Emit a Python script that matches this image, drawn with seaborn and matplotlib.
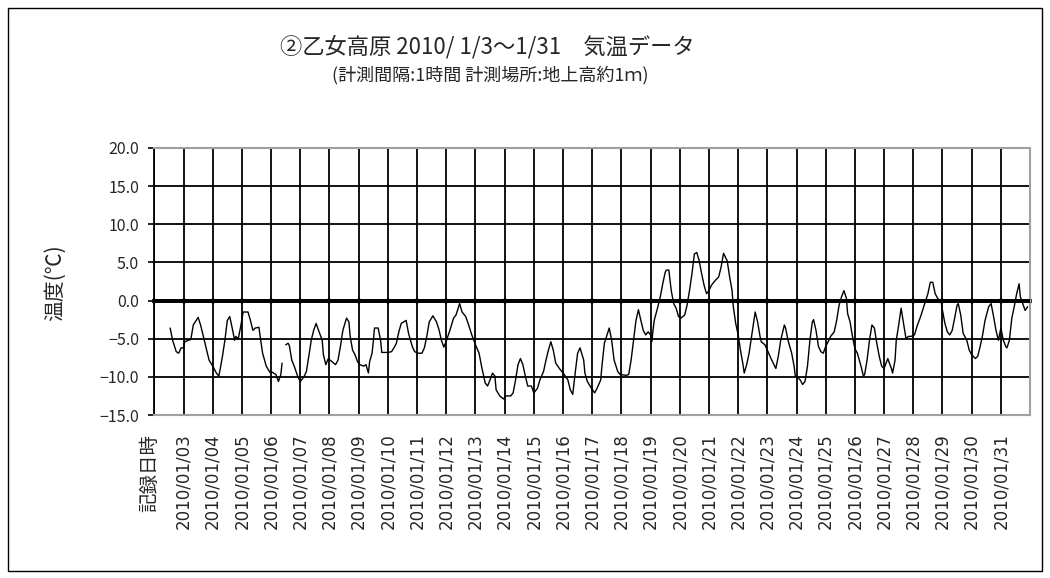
import numpy as np
import pandas as pd
import matplotlib
matplotlib.use("Agg")
import matplotlib.pyplot as plt
import matplotlib.ticker as mticker
from matplotlib.patches import Rectangle
import seaborn as sns

sns.set_style("white")
plt.rcParams['font.family'] = ['Noto Sans CJK JP', 'DejaVu Sans']

# hours counted from the left edge of the plot (first gridline)
hours = [13, 15, 18, 20, 22, 24, 25, 28, 30, 32, 36, 38, 40, 43, 45, 48, 51, 53, 54, 56,
         58, 60, 62, 64, 66, 67, 69, 71, 73, 77, 79, 81, 83, 86, 87, 89, 92, 95, 97, 100,
         102, 104, 105, 106, 108, 110, 111, 113, 115, 118,
         120, 123, 125, 127, 129, 131, 133, 135, 138, 139, 141, 143, 146, 149, 151, 153, 155, 158, 160, 161,
         163, 165, 167, 169, 172, 174, 176, 177, 179, 180, 181, 184, 186, 187, 190, 192, 195, 197, 199, 201,
         203, 207, 209, 212, 214, 217, 220, 222, 224, 226, 229, 232, 234, 236, 238, 240,
         243, 246, 248, 251, 253, 256, 258, 261, 264, 267, 269, 272, 274, 276, 278, 280, 281, 284, 287, 289,
         293, 295, 297, 299, 301, 303, 305, 307, 310, 312, 315, 317, 320, 322, 324, 326, 328, 330, 333, 335,
         337, 340, 342, 344, 346, 348, 350, 353, 354, 356, 359,
         362, 364, 367, 368, 370, 373, 374, 376, 378, 381, 383, 388, 390, 392, 394, 396, 398, 400, 402, 404,
         406, 408, 409, 410, 411, 414, 416, 418, 420, 421, 423, 425, 427, 429, 431, 433, 436, 438, 440, 442,
         444, 446, 448, 450, 452, 454, 456, 458, 461, 464, 466, 468, 471, 473, 475, 476, 478, 480, 482,
         484, 485, 487, 489, 491, 493, 494, 496, 498, 499, 502, 504, 507, 510, 511, 513, 515, 518, 519, 521,
         524, 526, 527, 529, 531, 533, 535, 537, 539, 541, 542, 544, 546, 548, 550, 552, 554, 556, 559, 561,
         563, 565, 567, 569, 570, 572, 574, 576, 578, 581, 583, 584, 586, 588, 590, 592, 594, 596, 598, 600,
         603,
         606, 607, 609, 610, 612, 614, 616, 618, 620, 622, 625, 627, 630, 633, 636, 638, 640, 642, 644, 647,
         648, 650, 652, 654, 656, 658, 660, 661, 663, 665, 668, 670, 672, 675, 677, 679, 681, 683, 686, 688,
         690, 692, 694, 696, 698, 700, 701, 703, 705, 707, 709, 711, 712, 714, 716, 718]

temps = [-3.6, -5.2, -6.7, -6.9, -6.2, -6.2, -5.4, -5.2, -5.1, -3.2, -2.2, -3.2, -4.5, -6.5, -7.8, -8.6, -9.5, -9.9, -9.1, -7.3,
         -5.2, -2.6, -2.1, -3.6, -5.2, -4.7, -5.0, -3.4, -1.5, -1.5, -2.6, -3.9, -3.6, -3.5, -4.7, -6.9, -8.6, -9.4, -9.4, -9.7,
         -10.6, -9.7, -8.2, np.nan, -5.8, -5.6, -5.9, -7.8, -8.6, -10.0,
         -10.6, -10.0, -9.3, -7.3, -5.2, -3.9, -3.0, -3.9, -5.2, -7.1, -8.4, -7.6, -8.0, -8.4, -7.8, -6.0, -3.9, -2.3, -2.8, -4.7,
         -6.5, -7.1, -8.0, -8.4, -8.6, -8.4, -9.5, -8.0, -6.9, -5.4, -3.6, -3.6, -5.2, -6.8, -6.8, -6.8, -6.7, -6.2, -5.6, -4.1,
         -3.0, -2.6, -4.3, -6.0, -6.7, -6.9, -6.9, -6.2, -4.7, -2.8, -2.0, -2.8, -3.8, -5.2, -6.1, -5.3,
         -3.9, -2.3, -1.9, -0.4, -1.5, -2.1, -3.0, -4.5, -5.8, -6.9, -8.6, -10.8, -11.2, -10.4, -9.5, -9.9, -11.7, -12.5, -12.9, -12.5,
         -12.5, -12.1, -10.4, -8.4, -7.6, -8.4, -9.9, -11.2, -11.2, -12.1, -11.5, -10.4, -9.3, -7.8, -6.5, -5.4, -6.5, -8.2, -8.9, -9.3,
         -9.7, -10.4, -11.7, -12.3, -9.5, -6.9, -6.2, -7.8, -9.5, -10.6, -11.4,
         -12.1, -11.5, -10.4, -8.6, -5.6, -4.1, -3.6, -5.2, -7.8, -9.3, -9.7, -9.8, -9.7, -7.8, -5.2, -2.6, -1.2, -2.6, -3.9, -4.5,
         -4.1, -4.5, -5.4, -3.9, -2.6, -0.8, 0.5, 2.2, 3.7, 4.0, 4.0, 1.3, -0.4, -1.0, -2.1, -2.3, -1.9, -0.6, 1.3, 3.5,
         6.1, 6.3, 5.2, 3.5, 2.0, 0.9, 1.3, 2.0, 2.6, 3.1, 4.4, 6.2, 5.2, 3.1, 1.3, -0.8, -3.0, -4.5, -6.6,
         -8.4, -9.5, -8.4, -6.9, -4.7, -2.6, -1.5, -2.8, -4.7, -5.4, -5.8, -6.5, -7.6, -8.6, -8.9, -7.3, -5.2, -3.2, -3.6, -5.2,
         -6.9, -8.6, -9.9, -10.1, -10.4, -11.0, -10.6, -8.6, -5.2, -2.8, -2.5, -3.9, -6.0, -6.7, -6.9, -6.0, -5.4, -4.7, -4.1, -2.6,
         -0.6, 0.5, 1.3, 0.3, -1.7, -2.8, -4.7, -6.3, -6.9, -8.6, -9.9, -9.7, -7.8, -5.2, -3.2, -3.6, -5.6, -7.3, -8.6, -8.9,
         -7.6,
         -8.9, -9.5, -7.8, -5.2, -3.2, -1.0, -3.0, -5.0, -4.7, -4.7, -4.5, -3.4, -2.1, -0.6, 0.9, 2.4, 2.4, 0.9, 0.3, -0.2,
         -1.3, -3.0, -4.1, -4.5, -3.9, -2.3, -0.6, -0.4, -1.9, -4.3, -5.2, -6.5, -7.1, -7.6, -7.3, -6.0, -4.5, -2.6, -0.8, -0.4,
         -2.1, -3.9, -5.2, -3.6, -5.2, -6.0, -6.2, -5.2, -2.3, -0.8, 0.9, 2.2, 0.5, -0.4, -1.3, -0.8]

day_labels = ["2010/01/%02d" % d for d in range(3, 32)]
y_ticks = [-15, -10, -5, 0, 5, 10, 15, 20]

title = "②乙女高原 2010/ 1/3～1/31　気温データ"
subtitle = "(計測間隔:1時間 計測場所:地上高約1ｍ)"

df = pd.DataFrame({"hour": hours, "temp": temps})
df["seg"] = df["temp"].isna().cumsum()
df = df.dropna()

fig = plt.figure(figsize=(10.5, 5.78), dpi=100)
ax = fig.add_axes([0.147, 0.282, 0.834, 0.462])

sns.lineplot(data=df, x="hour", y="temp", units="seg", estimator=None, sort=False,
             color="black", lw=1.0, ax=ax, zorder=4)

ax.set_xlim(0, 720)
ax.set_ylim(-15, 20)
ax.set_xticks(range(0, 721, 24))
ax.set_xticklabels([""] + day_labels + [""])
ax.set_yticks(y_ticks)
ax.yaxis.set_major_formatter(mticker.FuncFormatter(lambda v, p: f"{v:.1f}".replace("-", "\u2212")))
ax.grid(True, color="black", lw=1.3)
ax.axhline(0, color="black", lw=2.8, zorder=3)

# tick marks on the zero line like the category axis
sec = ax.secondary_xaxis(15 / 35)
sec.set_xticks(range(0, 721, 24))
sec.tick_params(axis="x", length=4, width=1.6, direction="inout", labelbottom=False, labeltop=False)
sec.spines["bottom"].set_linewidth(2.8)

for s in ["top", "right", "bottom"]:
    ax.spines[s].set_color("#a0a0a0")
    ax.spines[s].set_linewidth(1.5)
ax.spines["left"].set_color("black")
ax.spines["left"].set_linewidth(1.3)

ax.tick_params(axis="y", direction="out", length=4, width=1.2, color="black", labelsize=11.5, pad=7, left=True)
ax.tick_params(axis="x", length=0, labelrotation=90, labelsize=12, pad=13)
for t in ax.get_xticklabels():
    t.set_family(["DejaVu Sans"])
ax.set_xlabel("")
ax.set_ylabel("")

fig.text(487 / 1050, 1 - 47 / 578, title, ha="center", va="center", fontsize=16)
fig.text(490 / 1050, 1 - 75 / 578, subtitle, ha="center", va="center", fontsize=13)
fig.text(55 / 1050, 1 - 283 / 578, "温度(℃)", rotation=90, ha="center", va="center", fontsize=15)
fig.text(150 / 1050, 1 - 434 / 578, "記録日時", rotation=90, ha="center", va="top", fontsize=14)

fig.add_artist(Rectangle((8 / 1050, 1 - 571 / 578), 1034 / 1050, 563 / 578,
                         transform=fig.transFigure, fill=False, ec="black", lw=1))

fig.savefig("out.png", dpi=100)
